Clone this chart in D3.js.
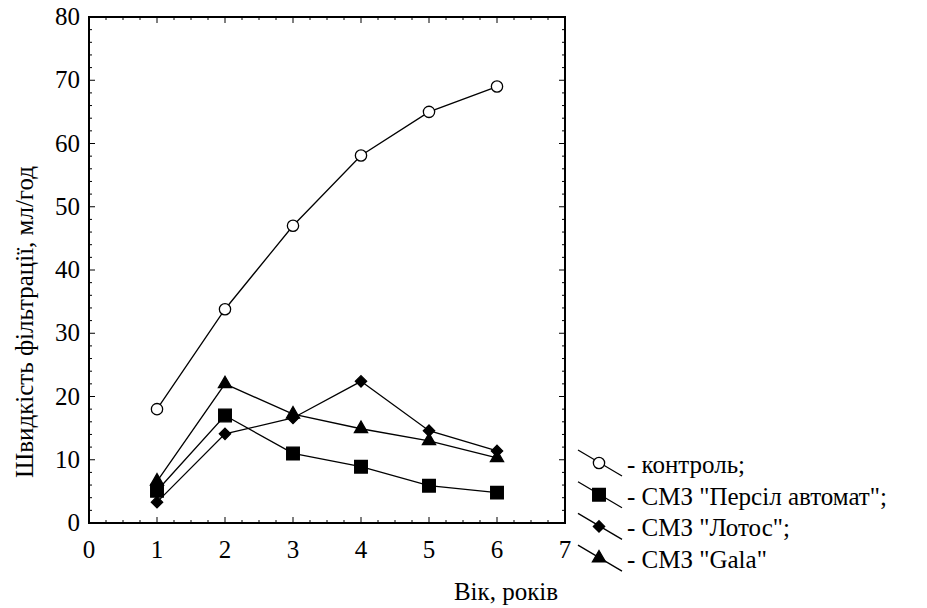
<!DOCTYPE html>
<html>
<head>
<meta charset="utf-8">
<script src="https://cdn.jsdelivr.net/npm/d3@7"></script>
<style>
	body { margin: 0; background: #fff; }
	#canvas text { font-family: 'Liberation Serif', 'Times New Roman', Tinos !important; }
</style>
</head>
<body>
<svg id="canvas" width="927" height="608" font-family="Liberation Serif" style="font-family: 'Liberation Serif'"></svg>
<script>
// data
const ages = [1, 2, 3, 4, 5, 6];
const control = [18, 33.8, 47, 58.1, 65, 69];
const persil = [5.1, 17, 11, 8.9, 5.9, 4.8];
const lotos = [3.3, 14.1, 16.6, 22.4, 14.6, 11.4];
const gala = [6.6, 22, 17.2, 14.9, 13, 10.3];

const xTicks = [0, 1, 2, 3, 4, 5, 6, 7],
	yTicks = [0, 10, 20, 30, 40, 50, 60, 70, 80];

const seriesNames = ['- контроль;', '- СМЗ "Персіл автомат";', '- СМЗ "Лотос";', '- СМЗ "Gala"'];

const xTitle = 'Вік, років',
	yTitle = 'Швидкість фільтрації, мл/год';

const FONT = "'Liberation Serif', 'Times New Roman', Tinos";

// layout
const plot = { left: 89, right: 565, top: 17, bottom: 523 };

const svg = d3.select('svg#canvas');

const x = d3.scaleLinear().domain([0, 7]).range([plot.left, plot.right]),
	y = d3.scaleLinear().domain([0, 80]).range([plot.bottom, plot.top]);

// diamond drawn as a square turned 45 degrees
const symbolRhomb = {
	draw(context, size) {
		const r = Math.sqrt(size / 2);
		context.moveTo(0, -r);
		context.lineTo(r, 0);
		context.lineTo(0, r);
		context.lineTo(-r, 0);
		context.closePath();
	}
};

const series = [
	{ name: seriesNames[0], values: control, symbol: d3.symbolCircle, size: 100, fill: '#fff' },
	{ name: seriesNames[1], values: persil, symbol: d3.symbolSquare, size: 160, fill: '#000' },
	{ name: seriesNames[2], values: lotos, symbol: symbolRhomb, size: 64, fill: '#000' },
	{ name: seriesNames[3], values: gala, symbol: d3.symbolTriangle, size: 75, fill: '#000' }
];

// frame ticks (inside, all four sides)
const minorX = d3.range(0, 7.001, 0.25),
	minorY = d3.range(0, 80.001, 2);

const ticksG = svg.append('g').attr('stroke', '#000').attr('stroke-width', 1);

minorX.forEach(v => {
	const major = Math.abs(v - Math.round(v)) < 1e-6;
	const len = major ? 6 : 3;
	ticksG.append('line').attr('x1', x(v)).attr('x2', x(v))
		.attr('y1', plot.bottom).attr('y2', plot.bottom - len);
	ticksG.append('line').attr('x1', x(v)).attr('x2', x(v))
		.attr('y1', plot.top).attr('y2', plot.top + len);
});
minorY.forEach(v => {
	const major = v % 10 === 0;
	const len = major ? 6 : 3;
	ticksG.append('line').attr('y1', y(v)).attr('y2', y(v))
		.attr('x1', plot.left).attr('x2', plot.left + len);
	ticksG.append('line').attr('y1', y(v)).attr('y2', y(v))
		.attr('x1', plot.right).attr('x2', plot.right - len);
});

svg.append('rect')
	.attr('x', plot.left).attr('y', plot.top)
	.attr('width', plot.right - plot.left).attr('height', plot.bottom - plot.top)
	.attr('fill', 'none').attr('stroke', '#000').attr('stroke-width', 2);

// tick labels
svg.append('g').selectAll('text').data(xTicks).join('text')
	.attr('x', d => x(d)).attr('y', plot.bottom + 35)
	.attr('text-anchor', 'middle')
	.style('font-family', FONT).style('font-size', '25px')
	.text(d => d);

svg.append('g').selectAll('text').data(yTicks).join('text')
	.attr('x', plot.left - 9).attr('y', d => y(d) + 8)
	.attr('text-anchor', 'end')
	.style('font-family', FONT).style('font-size', '25px')
	.text(d => d);

// titles
svg.append('text')
	.attr('x', 506).attr('y', 600)
	.attr('text-anchor', 'middle')
	.style('font-family', FONT).style('font-size', '25px')
	.text(xTitle);

svg.append('text')
	.attr('transform', 'translate(33,322) rotate(-90)')
	.attr('text-anchor', 'middle')
	.style('font-family', FONT).style('font-size', '25px')
	.text(yTitle);

// lines + markers
const line = d3.line().x(d => x(d.x)).y(d => y(d.y));

series.forEach(s => {
	const pts = ages.map((a, i) => ({ x: a, y: s.values[i] }));
	const g = svg.append('g');
	g.append('path')
		.attr('d', line(pts))
		.attr('fill', 'none').attr('stroke', '#000').attr('stroke-width', 1.3);
	g.selectAll('path.pt').data(pts).join('path')
		.classed('pt', true)
		.attr('transform', d => `translate(${x(d.x)},${y(d.y)})`)
		.attr('d', d3.symbol().type(s.symbol).size(s.size))
		.attr('fill', s.fill).attr('stroke', '#000').attr('stroke-width', 1.3);
});

// legend
const legend = svg.append('g').selectAll('g').data(series).join('g')
	.attr('transform', (d, i) => `translate(599,${463 + i * 31.7})`);

legend.append('line')
	.attr('x1', -21).attr('y1', -13).attr('x2', 23).attr('y2', 13)
	.attr('stroke', '#000').attr('stroke-width', 1.3);
legend.append('path')
	.attr('d', d => d3.symbol().type(d.symbol).size(d.size)())
	.attr('fill', d => d.fill).attr('stroke', '#000').attr('stroke-width', 1.3);
legend.append('text')
	.attr('x', 28).attr('y', 10)
	.style('font-family', FONT).style('font-size', '25px')
	.text(d => d.name);
</script>
</body>
</html>
